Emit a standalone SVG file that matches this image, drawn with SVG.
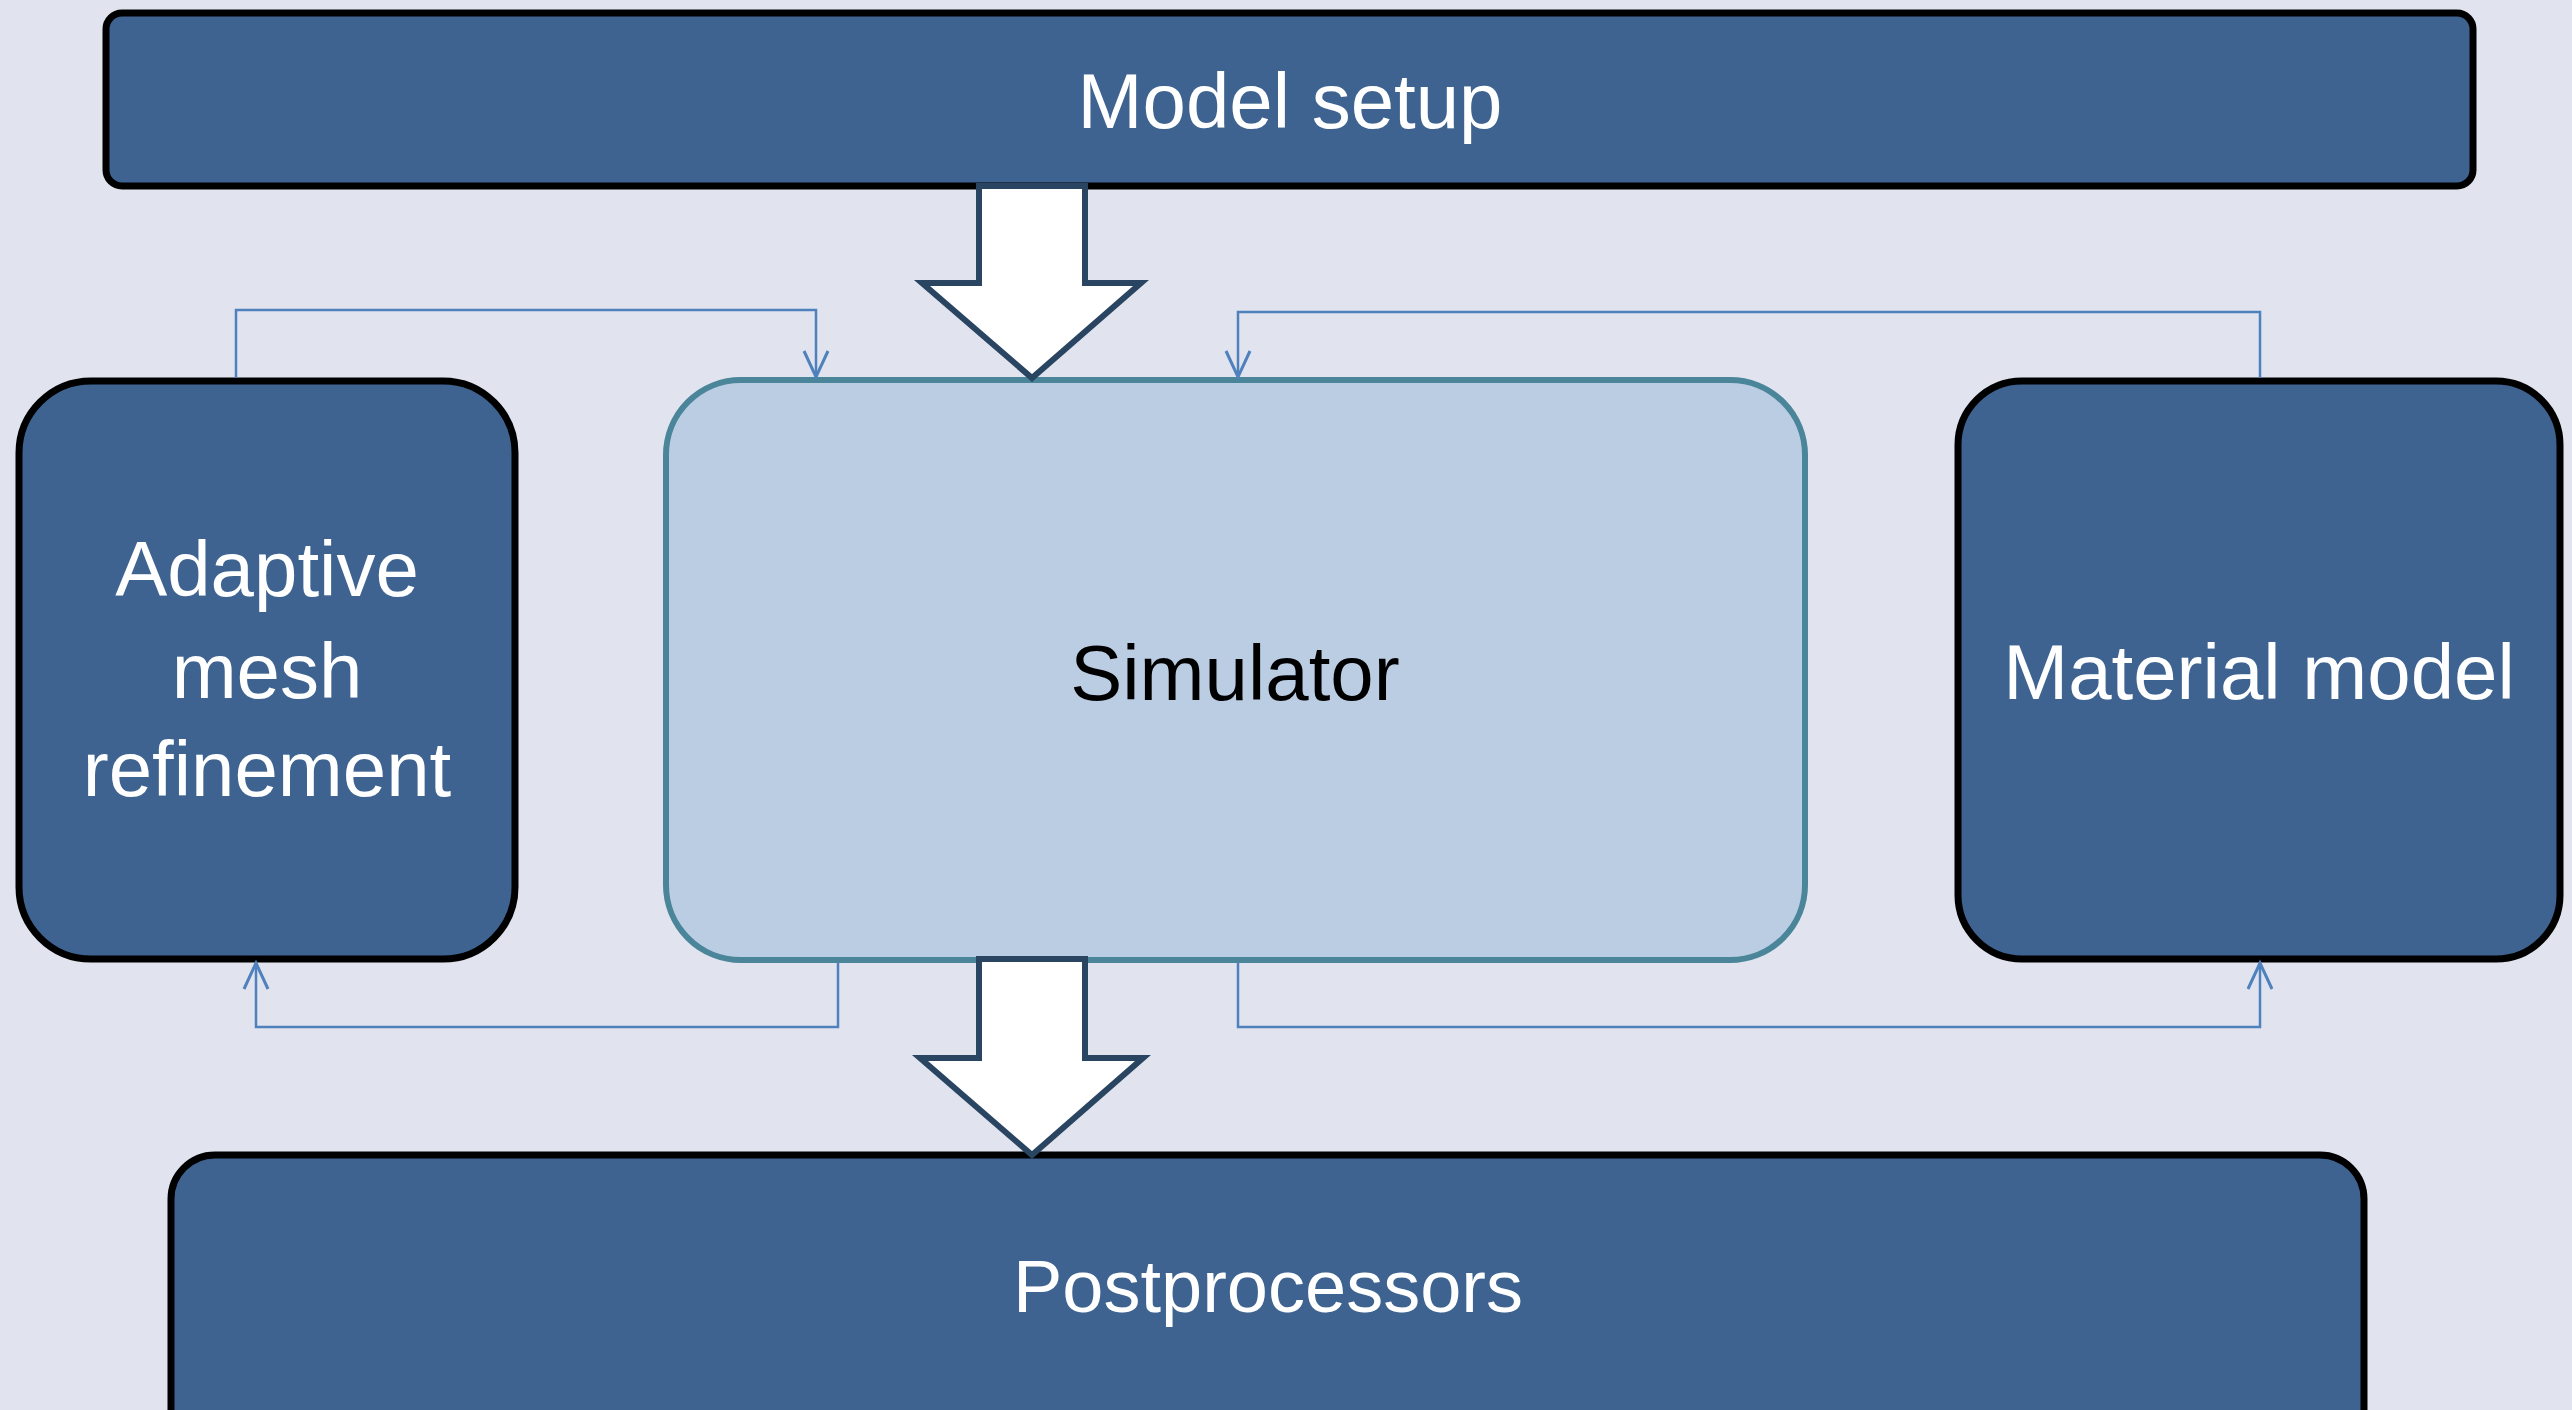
<svg xmlns="http://www.w3.org/2000/svg" width="2572" height="1410" viewBox="0 0 2572 1410">
<defs>
<style>
.dark{fill:#3E6390;stroke:#000;stroke-width:7}
.sim{fill:#BBCDE3;stroke:#4A8599;stroke-width:6}
.lbl{font-family:"Liberation Sans",Arial,sans-serif;font-size:78px;fill:#fff;text-anchor:middle}
.lblk{fill:#000}
.conn{fill:none;stroke:#4F81BD;stroke-width:2.5}
.big{fill:#fff;stroke:#2A4562;stroke-width:6;stroke-linejoin:miter}
</style>
<marker id="open" markerUnits="userSpaceOnUse" markerWidth="32" markerHeight="32" refX="28" refY="14" orient="auto" viewBox="0 0 32 28">
<path d="M2,2 L28,14 L2,26" fill="none" stroke="#4F81BD" stroke-width="3"/>
</marker>
</defs>
<rect width="2572" height="1410" fill="#E1E4EF"/>
<g id="model-setup">
<rect class="dark" x="106" y="13" width="2367" height="173" rx="16"/>
<text class="lbl" x="1290" y="128">Model setup</text>
</g>
<g id="adaptive-mesh-refinement">
<rect class="dark" x="19" y="381" width="496" height="578" rx="72"/>
<text class="lbl" x="267" y="596">Adaptive</text>
<text class="lbl" x="267" y="698">mesh</text>
<text class="lbl" x="267" y="796">refinement</text>
</g>
<g id="simulator">
<rect class="sim" x="666" y="380" width="1139" height="580" rx="75"/>
<text class="lbl lblk" x="1235" y="700">Simulator</text>
</g>
<g id="material-model">
<rect class="dark" x="1958" y="381" width="602" height="578" rx="64"/>
<text class="lbl" x="2259" y="699">Material model</text>
</g>
<g id="postprocessors">
<rect class="dark" x="171" y="1155" width="2193" height="300" rx="44"/>
<text class="lbl" x="1268" y="1312" style="font-size:74px">Postprocessors</text>
</g>
<g id="connectors">
<polygon class="big" points="979,186 1085,186 1085,283 1141,283 1032,378 922,283 979,283"/>
<polygon class="big" points="979,959 1085,959 1085,1058 1143,1058 1032,1155 920,1058 979,1058"/>
<polyline class="conn" points="236,378 236,310 816,310 816,377" marker-end="url(#open)"/>
<polyline class="conn" points="2260,378 2260,312 1238,312 1238,377" marker-end="url(#open)"/>
<polyline class="conn" points="838,962 838,1027 256,1027 256,963" marker-end="url(#open)"/>
<polyline class="conn" points="1238,962 1238,1027 2260,1027 2260,963" marker-end="url(#open)"/>
</g>
</svg>
